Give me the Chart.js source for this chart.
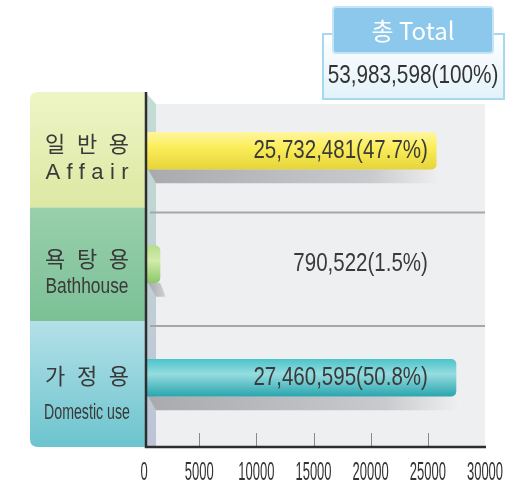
<!DOCTYPE html>
<html>
<head>
<meta charset="utf-8">
<script src="https://cdn.jsdelivr.net/npm/chart.js"></script>
<style>
html,body{margin:0;padding:0;background:#fff;}
canvas{display:block;}
</style>
</head>
<body>
<canvas id="grafico" width="524" height="489"></canvas>
<script>
// datos
const categorias = ['Affair', 'Bathhouse', 'Domestic use'];
const nombresKo = ['일 반 용', '욕 탕 용', '가 정 용'];
const consumos = [25732481, 790522, 27460595];
const porcentajes = [47.7, 1.5, 50.8];
const totalConsumo = 53983598;
const ticksX = [0, 5000, 10000, 15000, 20000, 25000, 30000];

const FUENTE = "'Liberation Sans', Arial, sans-serif";
const FUENTE_KO = "'Noto Sans CJK KR', sans-serif";

// colores de barras (arriba, medio, abajo)
const coloresBarra = [
  ['#fff5a0', '#fbee5a', '#e6d43a'],
  ['#b6de8c', '#d2ecaa', '#8cc86a'],
  ['#4cc4ca', '#96dce0', '#2aa6ae']
];
// colores del panel izquierdo
const coloresPanel = [
  ['#eef5c6', '#dce8a2'],
  ['#98d0ac', '#7cc096'],
  ['#b4e0e8', '#6cc4ce']
];

function fmt(n){ return n.toLocaleString('en-US'); }

function textoEscalado(ctx, txt, x, y, escala, align){
  ctx.save();
  ctx.translate(x, y);
  ctx.scale(escala, 1);
  ctx.textAlign = align || 'center';
  ctx.fillText(txt, 0, 0);
  ctx.restore();
}

function textoEspaciado(ctx, txt, cx, y, ancho){
  // reparte el sobrante como espacio entre letras
  ctx.save();
  ctx.textAlign = 'left';
  const w = ctx.measureText(txt).width;
  const n = Array.from(txt).length;
  const ls = n > 1 ? (ancho - w) / (n - 1) : 0;
  if('letterSpacing' in ctx){
    ctx.letterSpacing = ls + 'px';
    ctx.fillText(txt, cx - ancho / 2, y);
  } else {
    let x = cx - ancho / 2;
    Array.from(txt).forEach(ch=>{
      ctx.fillText(ch, x, y);
      x += ctx.measureText(ch).width + ls;
    });
  }
  ctx.restore();
}

function rectRedondo(ctx, x, y, w, h, r){
  ctx.beginPath();
  ctx.moveTo(x + r, y);
  ctx.lineTo(x + w - r, y);
  ctx.quadraticCurveTo(x + w, y, x + w, y + r);
  ctx.lineTo(x + w, y + h - r);
  ctx.quadraticCurveTo(x + w, y + h, x + w - r, y + h);
  ctx.lineTo(x + r, y + h);
  ctx.quadraticCurveTo(x, y + h, x, y + h - r);
  ctx.lineTo(x, y + r);
  ctx.quadraticCurveTo(x, y, x + r, y);
  ctx.closePath();
}

function colorBarra(c){
  const ch = c.chart;
  const cols = coloresBarra[c.dataIndex] || coloresBarra[0];
  if(!ch.chartArea || !ch.scales.y) return cols[1];
  const cy = ch.scales.y.getPixelForValue(c.dataIndex);
  const g = ch.ctx.createLinearGradient(0, cy - 18.5, 0, cy + 18.5);
  g.addColorStop(0, cols[0]);
  g.addColorStop(0.4, cols[1]);
  g.addColorStop(1, cols[2]);
  return g;
}

const decoracion = {
  id: 'decoracion',
  beforeDraw(chart){
    const ctx = chart.ctx;
    const ca = chart.chartArea;
    const ys = chart.scales.y;
    const abajo = 447;

    // caja del total
    let g = ctx.createLinearGradient(0, 33, 0, 100);
    g.addColorStop(0, '#ffffff');
    g.addColorStop(1, '#e2f2fa');
    ctx.fillStyle = g;
    ctx.fillRect(322, 33, 183, 67);
    ctx.strokeStyle = '#a8d8ee';
    ctx.lineWidth = 2;
    ctx.strokeRect(323, 34, 181, 65);
    rectRedondo(ctx, 333, 7, 160, 46, 3);
    ctx.fillStyle = '#8cc8ec';
    ctx.fill();
    ctx.strokeStyle = '#c4e5f7';
    ctx.stroke();
    ctx.fillStyle = '#ffffff';
    ctx.font = '24px ' + FUENTE_KO;
    ctx.textBaseline = 'middle';
    ctx.textAlign = 'center';
    ctx.fillText('총 Total', 413, 31);
    ctx.fillStyle = '#333333';
    ctx.font = '25px ' + FUENTE;
    ctx.textBaseline = 'alphabetic';
    textoEscalado(ctx, fmt(totalConsumo) + '(100%)', 413, 83, 0.83);

    // fondo del area
    ctx.fillStyle = '#eeeff0';
    ctx.fillRect(147, 104, ca.right - 147, abajo - 104);
    // pared lateral
    g = ctx.createLinearGradient(0, 93, 0, abajo);
    g.addColorStop(0, '#c4ddd4');
    g.addColorStop(1, '#bcc4d6');
    ctx.fillStyle = g;
    ctx.beginPath();
    ctx.moveTo(146, 93);
    ctx.lineTo(156, 104);
    ctx.lineTo(156, abajo);
    ctx.lineTo(146, abajo);
    ctx.closePath();
    ctx.fill();

    // limites de filas
    const lim = [92];
    for(let i = 0; i < categorias.length - 1; i++){
      lim.push((ys.getPixelForValue(i) + ys.getPixelForValue(i + 1)) / 2);
    }
    lim.push(abajo);

    // lineas separadoras
    ctx.strokeStyle = '#a4a6a8';
    ctx.lineWidth = 2;
    for(let i = 1; i < lim.length - 1; i++){
      ctx.beginPath();
      ctx.moveTo(150, lim[i] + 5);
      ctx.lineTo(ca.right, lim[i] + 5);
      ctx.stroke();
    }

    // panel izquierdo
    ctx.save();
    rectRedondo(ctx, 30, lim[0], 130, abajo - lim[0], 8);
    ctx.clip();
    categorias.forEach((cat, i)=>{
      const y0 = lim[i], y1 = lim[i + 1];
      const gp = ctx.createLinearGradient(0, y0, 0, y1);
      gp.addColorStop(0, coloresPanel[i][0]);
      gp.addColorStop(1, coloresPanel[i][1]);
      ctx.fillStyle = gp;
      ctx.fillRect(30, y0, 116, y1 - y0);
    });
    ctx.restore();

    // textos del panel
    categorias.forEach((cat, i)=>{
      const cy = (lim[i] + lim[i + 1]) / 2;
      ctx.fillStyle = '#3a3a3a';
      ctx.font = '22px ' + FUENTE_KO;
      ctx.textBaseline = 'middle';
      textoEspaciado(ctx, nombresKo[i], 87, cy - 6 + (i === 2 ? -2 : 0), 84);
      ctx.textBaseline = 'alphabetic';
      ctx.font = '22px ' + FUENTE;
      const base = cy + 29 + (i === 2 ? 6 : 0);
      if(i === 0){
        textoEspaciado(ctx, cat, 87, base, 83);
      } else {
        const w = ctx.measureText(cat).width;
        textoEscalado(ctx, cat, 87, base, (i === 1 ? 83 : 86) / w);
      }
    });
  },
  beforeDatasetsDraw(chart){
    // sombras bajo las barras
    const ctx = chart.ctx;
    chart.getDatasetMeta(0).data.forEach(bar=>{
      const izq = 148, der = bar.x;
      const yb = bar.y + bar.height / 2;
      const g = ctx.createLinearGradient(izq, 0, der + 8, 0);
      g.addColorStop(0, '#a9aaae');
      g.addColorStop(0.75, '#c9cacd');
      g.addColorStop(1, '#f2f2f2');
      ctx.fillStyle = g;
      ctx.beginPath();
      ctx.moveTo(izq, yb);
      ctx.lineTo(der, yb);
      ctx.lineTo(der + 6, yb + 14);
      ctx.lineTo(izq + 8, yb + 14);
      ctx.closePath();
      ctx.fill();
    });
    // las barras empiezan en el eje
    ctx.save();
    ctx.beginPath();
    ctx.rect(147, 0, chart.width, chart.height);
    ctx.clip();
  },
  afterDatasetsDraw(chart){
    const ctx = chart.ctx;
    ctx.restore();
    const xs = chart.scales.x;
    const abajo = 447;

    // marcas del eje
    ctx.strokeStyle = '#8a8a8a';
    ctx.lineWidth = 1;
    ticksX.slice(1, -1).forEach(t=>{
      const x = Math.round(xs.getPixelForValue(t)) + 0.5;
      ctx.beginPath();
      ctx.moveTo(x, 433);
      ctx.lineTo(x, abajo);
      ctx.stroke();
    });
    // ejes
    ctx.strokeStyle = '#2e2e2e';
    ctx.lineWidth = 2.5;
    ctx.beginPath();
    ctx.moveTo(146, 92);
    ctx.lineTo(146, abajo);
    ctx.lineTo(486, abajo);
    ctx.stroke();

    // etiquetas del eje x
    ctx.fillStyle = '#333333';
    ctx.font = '25px ' + FUENTE;
    ctx.textBaseline = 'alphabetic';
    ticksX.forEach(t=>{
      textoEscalado(ctx, String(t), xs.getPixelForValue(t) + (t === 0 ? 2 : 0), 480, 0.52);
    });

    // etiquetas de valores
    const xDer = xs.getPixelForValue(25000);
    chart.getDatasetMeta(0).data.forEach((bar, i)=>{
      ctx.fillStyle = '#3a3a3a';
      ctx.font = '25px ' + FUENTE;
      textoEscalado(ctx, fmt(consumos[i]) + '(' + porcentajes[i] + '%)', xDer, bar.y + 7, 0.82, 'right');
    });
  }
};

document.addEventListener('DOMContentLoaded', ()=>{
  const canvas = document.getElementById('grafico');
  new Chart(canvas, {
    type: 'bar',
    data: {
      labels: categorias,
      datasets: [{
        data: consumos.map(v=>v / 1000),
        backgroundColor: colorBarra,
        borderWidth: 0,
        borderRadius: {topRight: 5, bottomRight: 5},
        borderSkipped: 'start',
        barThickness: 37,
        minBarLength: 18
      }]
    },
    options: {
      indexAxis: 'y',
      responsive: false,
      animation: false,
      layout: {padding: {left: 142, right: 39, top: 94, bottom: 0}},
      plugins: {legend: {display: false}, tooltip: {enabled: false}},
      scales: {
        x: {
          min: 0,
          max: 30000,
          border: {display: false},
          grid: {display: false, drawTicks: false},
          ticks: {display: false, stepSize: 5000},
          afterFit: s=>{ s.height = 54.5; }
        },
        y: {display: false}
      }
    },
    plugins: [decoracion]
  });
});
</script>
</body>
</html>
